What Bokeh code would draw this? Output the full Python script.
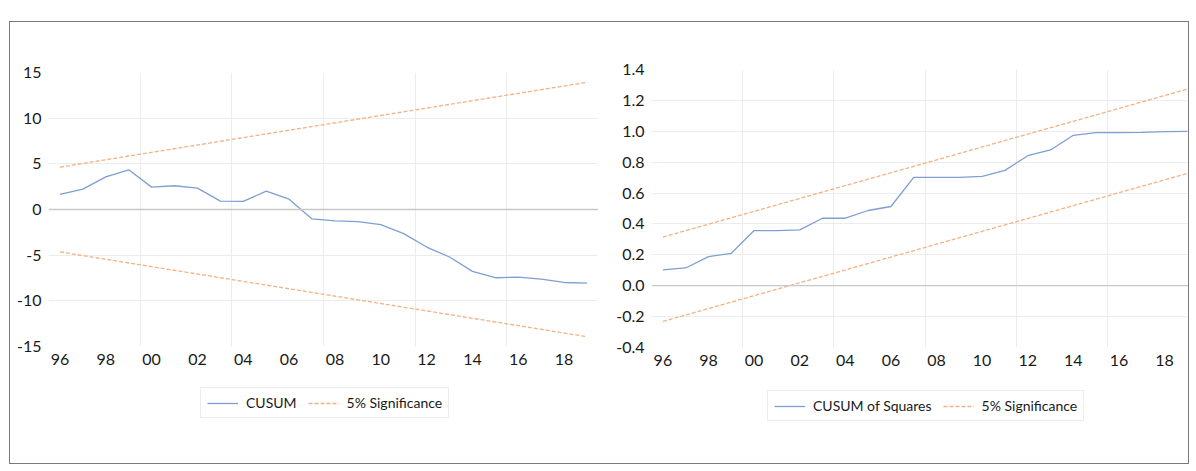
from bokeh.plotting import figure
from bokeh.models import FixedTicker, Span, Legend, LegendItem, Range1d, Div, Spacer
from bokeh.layouts import row, column
from bokeh.embed import file_html
from bokeh.resources import INLINE

years = list(range(1996, 2020))
cusum = [1.65, 2.23, 3.58, 4.35, 2.45, 2.6, 2.34, 0.91, 0.88, 2.01, 1.13, -1.03,
         -1.25, -1.32, -1.65, -2.64, -4.11, -5.2, -6.78, -7.47, -7.4, -7.62, -7.99, -8.06]
cusum_sq = [0.102, 0.115, 0.188, 0.21, 0.357, 0.357, 0.362, 0.437, 0.437, 0.487, 0.513, 0.701,
            0.701, 0.701, 0.708, 0.747, 0.842, 0.879, 0.974, 0.991, 0.991, 0.993, 0.998, 1.0]
sig_years = [1996, 2019]
cusum_upper = [4.64, 13.93]
cusum_lower = [-4.64, -13.93]
sq_upper = [0.315, 1.273]
sq_lower = [-0.231, 0.727]
x_tick_years = list(range(1996, 2019, 2))
x_tick_labels = ["96", "98", "00", "02", "04", "06", "08", "10", "12", "14", "16", "18"]
x_grid_years = [1999.5, 2003.5, 2007.5, 2011.5, 2015.5]
left_y_ticks = [-15, -10, -5, 0, 5, 10, 15]
left_y_labels = ["-15", "-10", "-5", "0", "5", "10", "15"]
right_y_ticks = [-0.4, -0.2, 0.0, 0.2, 0.4, 0.6, 0.8, 1.0, 1.2, 1.4]
right_y_labels = ["-0.4", "-0.2", "0.0", "0.2", "0.4", "0.6", "0.8", "1.0", "1.2", "1.4"]
sig_label = "5% Significance"

BLUE = "#7f9fd3"
ORANGE = "#f4b183"
FONT = "Lato"
TXT = "#1a1a1a"
BORDER = "#7a7a7a"
LW = 1.3
DASH = "4 2"


def make_chart(width, height, x_end, y_range, y_ticks, y_labels, series, upper, lower,
               b_left, b_top, b_bottom):
    p = figure(width=width, height=height, output_backend="svg", toolbar_location=None,
               x_range=Range1d(1995.5, x_end), y_range=Range1d(y_range[0], y_range[1]),
               min_border_left=b_left, min_border_right=0, min_border_top=b_top,
               min_border_bottom=b_bottom, outline_line_color=None,
               background_fill_color="white", border_fill_color="white")
    p.xgrid.ticker = FixedTicker(ticks=x_grid_years)
    p.ygrid.ticker = FixedTicker(ticks=[t for t in y_ticks[1:-1] if t != 0])
    p.xgrid.grid_line_color = "#ececec"
    p.ygrid.grid_line_color = "#ececec"
    p.add_layout(Span(location=0, dimension="width", line_color="#c8c8c8", line_width=1.3))

    p.xaxis.ticker = FixedTicker(ticks=x_tick_years)
    p.xaxis.major_label_overrides = {y: l for y, l in zip(x_tick_years, x_tick_labels)}
    p.yaxis.ticker = FixedTicker(ticks=y_ticks)
    p.yaxis.major_label_overrides = {t: l for t, l in zip(y_ticks, y_labels)}
    for ax in (p.xaxis, p.yaxis):
        ax.axis_line_color = None
        ax.major_tick_line_color = None
        ax.minor_tick_line_color = None
        ax.major_tick_out = 0
        ax.major_tick_in = 0
        ax.major_label_text_font = FONT
        ax.major_label_text_font_size = "16px"
        ax.major_label_text_color = TXT
    p.xaxis.major_label_standoff = 7
    p.yaxis.major_label_standoff = 7

    p.line(years, series, line_color=BLUE, line_width=LW)
    p.line(sig_years, upper, line_color=ORANGE, line_width=LW, line_dash=DASH)
    p.line(sig_years, lower, line_color=ORANGE, line_width=LW, line_dash=DASH)
    return p


def make_legend(width, height, series, upper, series_label, loc):
    # a strip below the chart that only carries the legend; its range excludes the data
    q = figure(width=width, height=height, output_backend="svg", toolbar_location=None,
               x_range=Range1d(0, 1), y_range=Range1d(0, 1),
               x_axis_type=None, y_axis_type=None, min_border=0,
               outline_line_color=None, background_fill_color="white",
               border_fill_color="white")
    q.grid.visible = False
    k1 = q.line(years, series, line_color=BLUE, line_width=LW)
    k2 = q.line(sig_years, upper, line_color=ORANGE, line_width=LW, line_dash=DASH)
    legend = Legend(items=[LegendItem(label=series_label, renderers=[k1]),
                           LegendItem(label=sig_label, renderers=[k2])],
                    orientation="horizontal", location=loc,
                    label_text_font=FONT, label_text_font_size="14px", label_text_color=TXT,
                    glyph_width=31, glyph_height=12, label_height=12, label_standoff=8,
                    spacing=11, padding=6, margin=0,
                    border_line_color="#dcdcdc", border_line_width=1,
                    background_fill_color="white")
    q.add_layout(legend)
    return q


p1 = make_chart(588, 353, 2019.5, (-15, 15), left_y_ticks, left_y_labels, cusum,
                cusum_upper, cusum_lower, 38, 50, 29)
p2 = make_chart(590, 353, 2019.05, (-0.4, 1.4), right_y_ticks, right_y_labels, cusum_sq,
                sq_upper, sq_lower, 53, 47, 28)
l1 = make_legend(588, 88, cusum, cusum_upper, "CUSUM", (152, 45))
l2 = make_legend(590, 88, cusum_sq, sq_upper, "CUSUM of Squares", (116, 42))


def hline(w):
    return Div(text="", width=w, height=1, margin=0, styles={"background-color": BORDER})


def vline(h):
    return Div(text="", width=1, height=h, margin=0, styles={"background-color": BORDER})


frame = column(hline(1180),
               row(vline(441), column(p1, l1), column(p2, l2), vline(441)),
               hline(1180))
layout = column(Spacer(height=21, width=10, margin=0),
                row(Spacer(width=9, height=10, margin=0), frame))

open("out.html", "w").write(file_html(layout, INLINE))
